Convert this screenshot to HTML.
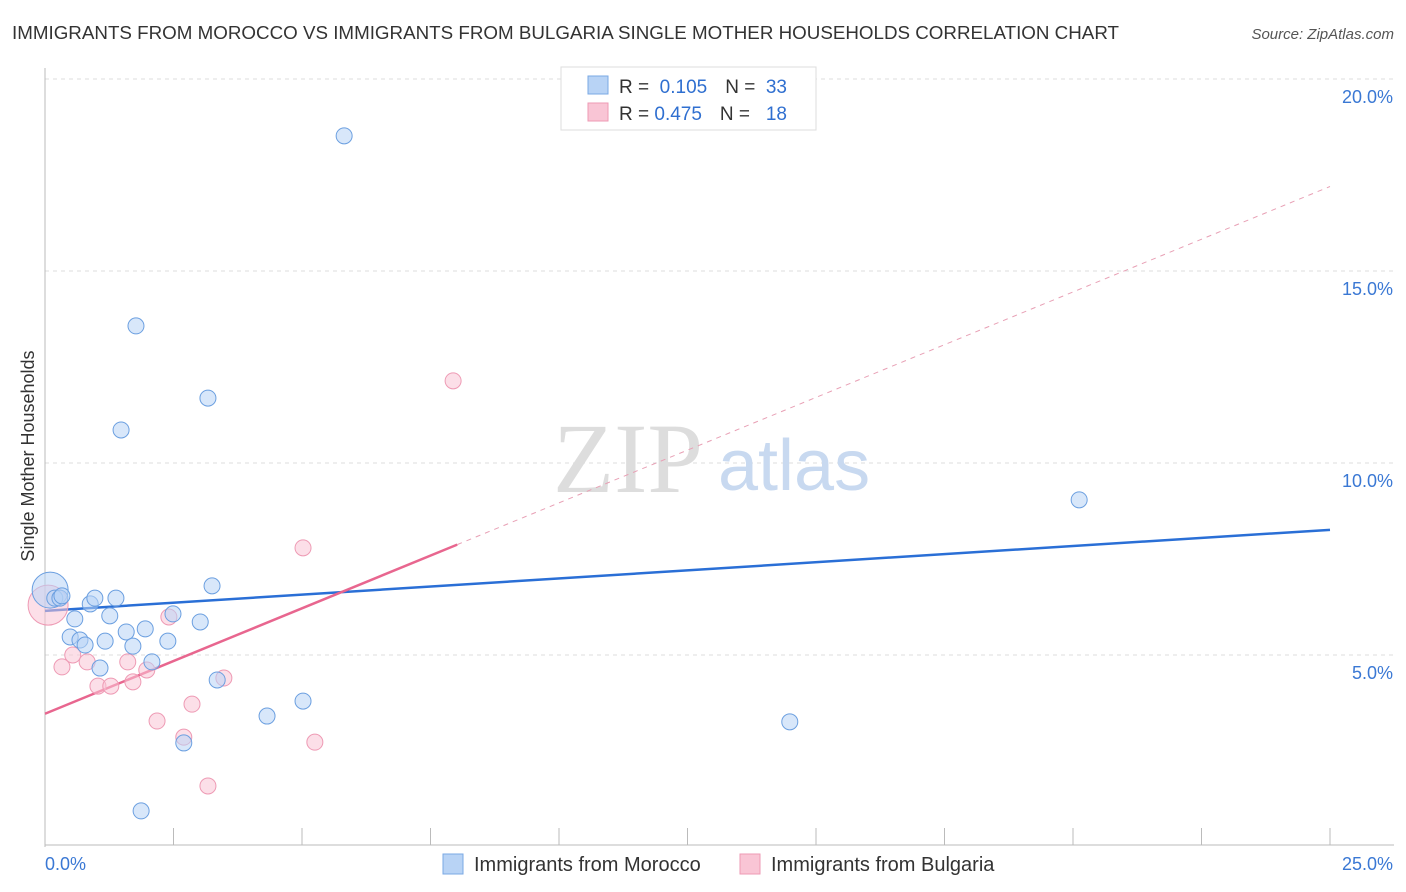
<!DOCTYPE html>
<html><head><meta charset="utf-8"><style>
body{margin:0;background:#fff;font-family:"Liberation Sans",sans-serif;}
svg{display:block}
</style></head><body>
<svg id="c" width="1406" height="892" xmlns="http://www.w3.org/2000/svg">
<text x="12" y="39" font-size="18" fill="#333" textLength="1107" lengthAdjust="spacingAndGlyphs">IMMIGRANTS FROM MOROCCO VS IMMIGRANTS FROM BULGARIA SINGLE MOTHER HOUSEHOLDS CORRELATION CHART</text>
<text x="1394" y="39" font-size="15" fill="#555" font-style="italic" text-anchor="end">Source: ZipAtlas.com</text>
<g id="grid"></g>
<text x="553" y="492" font-size="100" fill="#ddd" font-family="Liberation Serif,serif">ZIP</text>
<text x="718" y="490" font-size="72" fill="#c8d9f0">atlas</text>
<text transform="translate(34,456) rotate(-90)" font-size="18" fill="#333" text-anchor="middle">Single Mother Households</text>
<g id="axes"></g>
<g id="lines"></g>
<g id="pts"></g>
<g>
<rect x="561" y="67" width="255" height="63" fill="#fff" stroke="#ddd"/>
<rect x="588" y="76" width="20" height="18" fill="#b8d3f5" stroke="#7aa8e4"/>
<rect x="588" y="103" width="20" height="18" fill="#f9c5d5" stroke="#ee9ab4"/>
<text x="619" y="93" font-size="19" fill="#333">R = <tspan fill="#2f6fd0">&#160;0.105</tspan><tspan dx="18">N = </tspan><tspan fill="#2f6fd0">&#160;33</tspan></text>
<text x="619" y="120" font-size="19" fill="#333">R = <tspan fill="#2f6fd0">0.475</tspan><tspan dx="18">N = </tspan><tspan fill="#2f6fd0">&#160;&#160;18</tspan></text>
</g>
<g>
<rect x="443" y="854" width="20" height="20" fill="#b8d3f5" stroke="#7aa8e4"/>
<text x="474" y="871" font-size="20" fill="#333">Immigrants from Morocco</text>
<rect x="740" y="854" width="20" height="20" fill="#f9c5d5" stroke="#ee9ab4"/>
<text x="771" y="871" font-size="20" fill="#333">Immigrants from Bulgaria</text>
</g>
</svg>
<script>
const yTicks=[5,10,15,20];
const yTickLabels=["5.0%","10.0%","15.0%","20.0%"];
const xTicks=[0,2.5,5,7.5,10,12.5,15,17.5,20,22.5,25];
const moroccoX=[0.10,0.19,0.29,0.33,0.58,0.49,0.68,0.78,0.88,0.97,1.07,1.17,1.26,1.38,1.58,1.71,1.48,1.77,1.95,2.08,2.39,2.49,2.70,3.02,3.17,3.25,3.35,1.87,4.32,5.02,5.82,14.49,20.12];
const moroccoY=[6.69,6.48,6.48,6.54,5.94,5.47,5.39,5.26,6.33,6.48,4.66,5.36,6.02,6.48,5.60,5.23,10.86,13.57,5.68,4.82,5.36,6.07,2.71,5.86,11.69,6.80,4.35,0.94,3.41,3.80,18.52,3.26,9.04];
const bulgariaX=[0.06,0.33,0.54,0.82,1.03,1.28,1.61,1.71,1.98,2.18,2.41,2.70,2.86,3.17,3.48,5.02,5.25,7.94];
const bulgariaY=[6.30,4.69,5.00,4.82,4.19,4.19,4.82,4.30,4.61,3.28,5.99,2.86,3.72,1.59,4.40,7.79,2.73,12.14];
const moroccoLine=[6.15,8.26];
const bulgariaLine=[3.47,17.2];
const bulgariaSolidEnd=8.02;
const NS="http://www.w3.org/2000/svg";
const X=v=>45+v*51.4, Y=v=>847-v*38.4;
function mk(tag,attrs,parent){const e=document.createElementNS(NS,tag);for(const k in attrs)e.setAttribute(k,attrs[k]);parent.appendChild(e);return e;}
const grid=document.getElementById('grid'),axes=document.getElementById('axes'),lines=document.getElementById('lines'),pts=document.getElementById('pts');
yTicks.forEach((t,i)=>{
 const l=mk('line',{x1:45,x2:1394,y1:Y(t),y2:Y(t),stroke:'#ddd','stroke-dasharray':'4,4'},grid);
 
 
 const tx=mk('text',{x:1393,y:Y(t)+24,'font-size':18,fill:'#3a78d4','text-anchor':'end'},axes);
 tx.textContent=yTickLabels[i];
 
 
});
const ax=mk('line',{x1:45,x2:45,y1:68,y2:847,stroke:'#bbb'},axes);


const bx=mk('line',{x1:45,x2:1394,y1:845,y2:845,stroke:'#bbb'},axes);


xTicks.forEach(t=>{
 const l=mk('line',{x1:X(t),x2:X(t),y1:828,y2:845,stroke:'#bbb'},axes);
 
 
});
const xl0=mk('text',{x:45,y:870,'font-size':18,fill:'#3a78d4'},axes);xl0.textContent='0.0%';


const xl1=mk('text',{x:1393,y:870,'font-size':18,fill:'#3a78d4','text-anchor':'end'},axes);xl1.textContent='25.0%';


function pt(x,y,r,fill,stroke,name){const c=mk('circle',{cx:X(x),cy:Y(y),r:r,fill:fill,'fill-opacity':0.55,stroke:stroke,'stroke-width':1},pts);
 
 }
bulgariaX.forEach((x,i)=>pt(x,bulgariaY[i],i==0?20:8,'#f9c5d5','#ee9ab4','bulgaria-point'));
moroccoX.forEach((x,i)=>pt(x,moroccoY[i],i==0?18:8,'#b8d3f5','#6b9fe0','morocco-point'));
const ml=mk('line',{x1:X(0),y1:Y(moroccoLine[0]),x2:X(25),y2:Y(moroccoLine[1]),stroke:'#2a6fd6','stroke-width':2.5},lines);


const slope=(bulgariaLine[1]-bulgariaLine[0])/25;
const bl=mk('line',{x1:X(0),y1:Y(bulgariaLine[0]),x2:X(bulgariaSolidEnd),y2:Y(bulgariaLine[0]+slope*bulgariaSolidEnd),stroke:'#e8668f','stroke-width':2.5},lines);


const bd=mk('line',{x1:X(bulgariaSolidEnd),y1:Y(bulgariaLine[0]+slope*bulgariaSolidEnd),x2:X(25),y2:Y(bulgariaLine[1]),stroke:'#e8a0b5','stroke-width':1,'stroke-dasharray':'5,5'},lines);


</script>
</body></html>
